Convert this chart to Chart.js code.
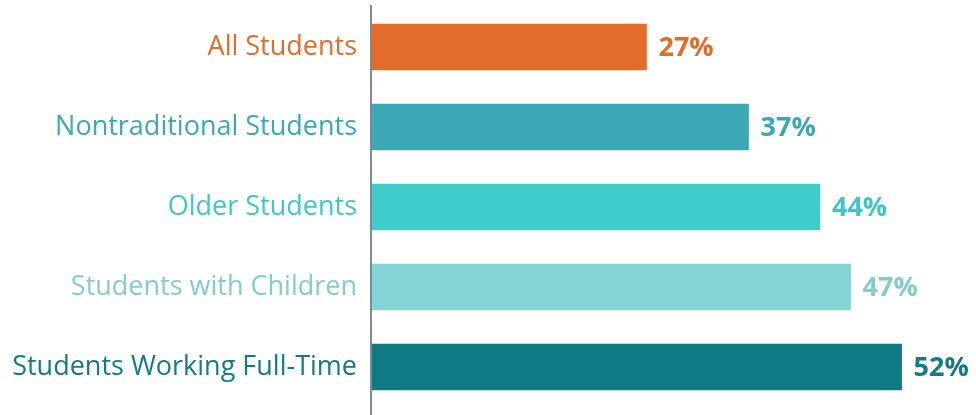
<!DOCTYPE html>
<html><head><meta charset="utf-8">
<script src="https://cdn.jsdelivr.net/npm/chart.js@4.4.1/dist/chart.umd.min.js"></script>
<style>html,body{margin:0;padding:0;background:#fff;}#wrap{width:976px;height:415px;}</style>
</head><body><div id="wrap"><canvas id="c" width="976" height="415"></canvas></div>
<script>
const categories = ["All Students","Nontraditional Students","Older Students","Students with Children","Students Working Full-Time"];
const values = [27, 37, 44, 47, 52];
const valueLabels = ["27%","37%","44%","47%","52%"];
const colors = ["#E36C2B","#3CA8B6","#41CCCC","#84D4D4","#0F7A82"];
const labelColors = ["#E36C2B","#3CA8B6","#41C6C8","#84CCCC","#137B84"];

const valuePlugin = {
  id: 'vals',
  afterDatasetsDraw(chart) {
    const ctx = chart.ctx;
    const meta = chart.getDatasetMeta(0);
    ctx.save();
    ctx.font = 'bold 27px "Open Sans"';
    ctx.textBaseline = 'middle';
    ctx.textAlign = 'left';
    meta.data.forEach((bar, i) => {
      ctx.fillStyle = labelColors[i];
      ctx.fillText(valueLabels[i], bar.x + 12, bar.y + 1);
    });
    ctx.strokeStyle = '#7F8A96';
    ctx.lineWidth = 2;
    ctx.beginPath();
    ctx.moveTo(chart.chartArea.left, 5);
    ctx.lineTo(chart.chartArea.left, 415);
    ctx.stroke();
    ctx.restore();
  }
};

const chart = new Chart(document.getElementById('c'), {
  type: 'bar',
  data: {
    labels: categories,
    datasets: [{ data: values, backgroundColor: colors, barThickness: 46 }]
  },
  options: {
    indexAxis: 'y',
    responsive: false,
    animation: false,
    layout: { padding: { top: 7, bottom: 8, right: 3, left: 0 } },
    plugins: { legend: { display: false }, tooltip: { enabled: false } },
    scales: {
      x: { min: 0, max: 59, display: false, grid: { display: false } },
      y: {
        grid: { display: false, drawTicks: false },
        border: { display: false },
        afterFit(scale) { scale.width = 371; scale.paddingTop = 0; scale.paddingBottom = 0; },
        ticks: {
          padding: 14,
          font: { family: '"Open Sans"', size: 27 },
          color: (c) => labelColors[c.index]
        }
      }
    }
  },
  plugins: [valuePlugin]
});
</script></body></html>
